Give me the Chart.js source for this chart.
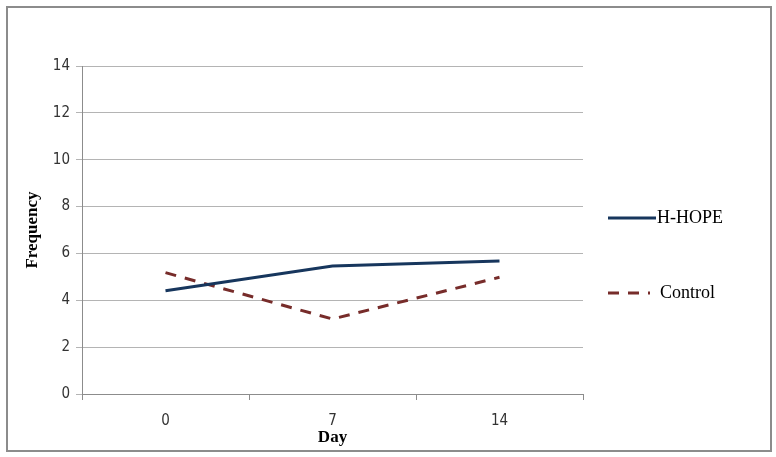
<!DOCTYPE html>
<html>
<head>
<meta charset="utf-8">
<script src="https://cdn.jsdelivr.net/npm/chart.js@4"></script>
<style>
  html, body { margin: 0; padding: 0; background: #fff; }
  #wrap { width: 776px; height: 457px; position: relative; }
</style>
</head>
<body>
<div id="wrap"><canvas id="freqChart" width="776" height="457"></canvas></div>
<script>
// data
const days = ['0', '7', '14'];
const hhope = [4.41, 5.46, 5.68];
const control = [5.18, 3.2, 4.98];
const yTicks = [0, 2, 4, 6, 8, 10, 12, 14];

const tickFont = { family: "'Liberation Sans Narrow', 'DejaVu Sans Condensed', 'Liberation Sans', sans-serif", size: 15 };
const serif = "'Liberation Serif', 'DejaVu Serif', serif";

// outer frame + legend at right
const framePlugin = {
    id: 'frame',
    beforeDraw(chart) {
        const ctx = chart.ctx;
        ctx.save();
        ctx.fillStyle = '#fff';
        ctx.fillRect(0, 0, chart.width, chart.height);
        ctx.strokeStyle = '#8c8c8c';
        ctx.lineWidth = 2;
        ctx.strokeRect(7, 7, 764, 444);
        ctx.restore();
    },
    afterDraw(chart) {
        const ctx = chart.ctx;
        const rows = [218, 293];
        ctx.save();
        chart.data.datasets.forEach((ds, i) => {
            const y = rows[i];
            ctx.strokeStyle = ds.borderColor;
            ctx.lineWidth = 3;
            ctx.setLineDash(ds.borderDash || []);
            ctx.beginPath();
            ctx.moveTo(608, y);
            ctx.lineTo(i === 0 ? 656 : 650, y);
            ctx.stroke();
            ctx.setLineDash([]);
            ctx.fillStyle = '#000';
            ctx.font = '18px ' + serif;
            ctx.textBaseline = 'middle';
            ctx.fillText(ds.label, i === 0 ? 657 : 660, y);
        });
        ctx.restore();
    }
};

new Chart(document.getElementById('freqChart'), {
    type: 'line',
    data: {
        labels: days,
        datasets: [{
            label: 'H-HOPE',
            data: hhope,
            borderColor: '#17365d',
            borderWidth: 3,
            pointRadius: 0,
            tension: 0
        }, {
            label: 'Control',
            data: control,
            borderColor: '#772c2a',
            borderWidth: 3,
            borderDash: [11, 9],
            pointRadius: 0,
            tension: 0
        }]
    },
    options: {
        responsive: false,
        animation: false,
        devicePixelRatio: 1,
        layout: { padding: { top: 66, right: 193, left: 0, bottom: 0 } },
        plugins: {
            legend: { display: false },
            tooltip: { enabled: false }
        },
        scales: {
            x: {
                offset: true,
                grid: {
                    offset: true,
                    drawOnChartArea: false,
                    color: '#8c8c8c',
                    tickLength: 6
                },
                border: { color: '#8c8c8c' },
                ticks: { color: '#333', font: tickFont, padding: 12 },
                title: {
                    display: true,
                    text: 'Day',
                    color: '#000',
                    font: { family: serif, size: 17, weight: 'bold' },
                    padding: { top: 0, bottom: 9 }
                },
                afterFit(scale) { scale.height = 63; }
            },
            y: {
                min: 0,
                max: 14,
                afterBuildTicks(scale) { scale.ticks = yTicks.map(v => ({ value: v })); },
                grid: { color: '#b4b4b4', tickLength: 6 },
                border: { color: '#8c8c8c' },
                ticks: { color: '#333', font: tickFont, padding: 6 },
                title: {
                    display: true,
                    text: 'Frequency',
                    color: '#000',
                    font: { family: serif, size: 17, weight: 'bold' },
                    padding: { top: 22, bottom: 8 }
                },
                afterFit(scale) { scale.width = 82; }
            }
        }
    },
    plugins: [framePlugin]
});
</script>
</body>
</html>
